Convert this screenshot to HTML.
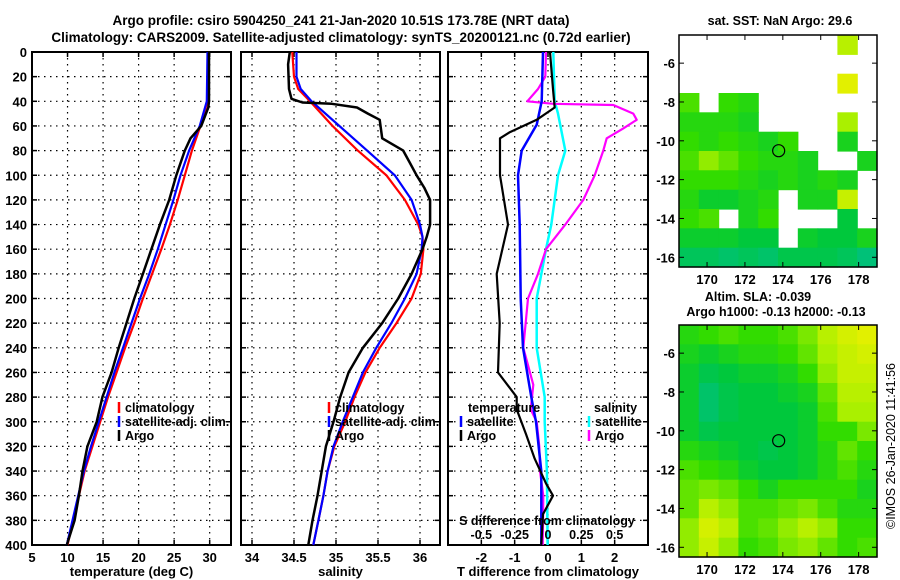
<!DOCTYPE html>
<html><head><meta charset="utf-8"><style>
html,body{margin:0;padding:0;background:#fff;}
svg{display:block;font-family:"Liberation Sans",sans-serif;font-weight:bold;}
</style></head><body>
<svg id="c" width="900" height="580" viewBox="0 0 900 580" xmlns="http://www.w3.org/2000/svg">
<rect width="900" height="580" fill="#fff"/>
<text x="341" y="25" font-size="13.5" text-anchor="middle">Argo profile: csiro 5904250_241 21-Jan-2020 10.51S 173.78E (NRT data)</text>
<text x="341" y="42" font-size="13.5" text-anchor="middle">Climatology: CARS2009. Satellite-adjusted climatology: synTS_20200121.nc (0.72d earlier)</text>
<g id="g"></g>
</svg>
<script>
// ---- data ----
const depthTicks=[0,20,40,60,80,100,120,140,160,180,200,220,240,260,280,300,320,340,360,380,400];
const tempTicks=[5,10,15,20,25,30];
const salTicks=[34,34.5,35,35.5,36];
const tdiffTicks=[-2,-1,0,1,2];
const sdiffTickLabels=["-0.5","-0.25","0","0.25","0.5"];
const sdiffTicks=[-0.5,-0.25,0,0.25,0.5];
const lonTicks=[170,172,174,176,178];
const latTicks=[-6,-8,-10,-12,-14,-16];

const tDepth=[0,40,60,80,100,120,140,160,180,200,220,240,260,280,300,320,340,360,380,400];
const tClim=[29.8,29.7,28.7,27.5,26.5,25.5,24.4,23.2,21.9,20.6,19.4,18.1,16.9,15.7,14.6,13.5,12.4,11.6,10.8,10.0];
const tSat=[29.7,29.6,28.6,27.1,25.9,24.9,23.8,22.7,21.5,20.2,19.0,17.8,16.6,15.5,14.4,13.3,12.3,11.5,10.7,9.9];
const aDepth=[0,40,45,60,70,80,100,120,140,160,180,200,220,240,260,280,300,320,340,360,380,400];
const tArgo=[29.9,29.9,29.8,28.8,27.3,26.5,25.3,24.3,23.0,21.8,20.6,19.4,18.3,17.2,16.2,14.9,14.1,12.8,12.1,11.6,11.0,9.9];

const sDepth=[0,20,30,40,60,80,100,120,140,150,160,180,200,220,240,260,280,300,320,340,360,380,400];
const sClim=[34.48,34.5,34.55,34.69,34.96,35.26,35.6,35.82,35.98,36.03,36.04,36.01,35.9,35.72,35.52,35.35,35.22,35.11,34.98,34.9,34.85,34.79,34.73];
const sSat=[34.53,34.53,34.58,34.71,35.04,35.37,35.7,35.9,36.0,36.03,36.02,35.96,35.82,35.66,35.48,35.32,35.2,35.08,34.97,34.9,34.85,34.79,34.73];
const saDepth=[0,10,30,38,41,42,45,50,55,70,80,90,100,110,120,140,150,160,180,200,220,240,260,280,300,320,340,360,380,400];
const sArgo=[34.45,34.43,34.44,34.47,34.6,34.95,35.25,35.38,35.52,35.55,35.8,35.88,35.96,36.05,36.12,36.12,36.08,36.03,35.9,35.74,35.55,35.32,35.15,35.05,34.97,34.88,34.83,34.78,34.72,34.67];

const dtSatDepth=[0,40,59,80,100,140,200,240,280,300,340,380,400];
const dtSat=[-0.15,-0.19,-0.34,-0.79,-0.9,-0.85,-0.82,-0.75,-0.5,-0.36,-0.2,-0.2,-0.2];
const dtArgoDepth=[0,30,45,55,65,70,100,140,180,220,260,280,290,310,330,350,360,375,400];
const dtArgo=[0.06,0.15,0.2,-0.34,-1.14,-1.44,-1.44,-1.2,-1.54,-1.45,-1.5,-0.94,-0.94,-0.66,-0.4,-0.06,0.15,-0.15,-0.2];
const dsSatDepth=[0,40,50,80,100,140,160,200,240,280,300,340,400];
const dsSat=[0.04,0.05,0.075,0.13,0.075,0.025,-0.015,-0.085,-0.085,-0.025,-0.025,-0.008,-0.003];
const dsArgoDepth=[0,20,30,40,42,43,50,55,62,70,80,100,120,140,160,180,200,240,270,290,300,320,340,360,400];
const dsArgo=[-0.015,-0.02,-0.075,-0.155,0.04,0.49,0.64,0.665,0.565,0.44,0.415,0.35,0.265,0.13,-0.015,-0.075,-0.15,-0.185,-0.11,-0.13,-0.085,-0.065,-0.06,-0.035,-0.04];

// SST grid rows lat -5..-16, cols lon 168.5..178.9 (null = no data)
const sstGrid=[
[null,null,null,null,null,null,null,null,0.8,null],
[null,null,null,null,null,null,null,null,null,null],
[null,null,null,null,null,null,null,null,0.95,null],
[0.55,null,0.5,0.45,null,null,null,null,null,null],
[0.45,0.45,0.45,0.4,null,null,null,null,0.75,null],
[0.5,0.45,0.5,0.45,0.4,0.5,null,null,0.4,null],
[0.55,0.7,0.6,0.5,0.45,0.45,0.4,null,null,0.4],
[0.5,0.5,0.5,0.45,0.4,0.45,0.4,0.45,0.4,null],
[0.45,0.35,0.35,0.4,0.45,null,0.4,0.4,0.85,null],
[0.5,0.55,null,0.4,0.5,null,null,null,0.3,null],
[0.35,0.35,0.35,0.3,0.3,null,0.35,0.3,0.3,0.4],
[0.2,0.2,0.15,0.2,0.15,0.25,0.25,0.25,0.2,0.1]];
const slaGrid=[
[0.45,0.5,0.55,0.5,0.5,0.55,0.65,0.8,0.9,0.95],
[0.4,0.35,0.4,0.45,0.45,0.5,0.6,0.75,0.85,0.9],
[0.35,0.25,0.3,0.35,0.35,0.4,0.5,0.7,0.85,0.85],
[0.35,0.15,0.25,0.3,0.3,0.35,0.4,0.6,0.8,0.8],
[0.35,0.15,0.25,0.3,0.3,0.3,0.35,0.55,0.75,0.75],
[0.35,0.25,0.3,0.3,0.3,0.3,0.35,0.5,0.5,0.65],
[0.45,0.4,0.35,0.3,0.25,0.3,0.35,0.45,0.6,0.5],
[0.55,0.5,0.45,0.35,0.3,0.3,0.35,0.45,0.55,0.45],
[0.6,0.65,0.6,0.5,0.4,0.5,0.5,0.5,0.5,0.4],
[0.6,0.8,0.7,0.55,0.55,0.6,0.65,0.55,0.45,0.45],
[0.7,0.9,0.8,0.55,0.6,0.7,0.8,0.7,0.5,0.5],
[0.7,0.85,0.7,0.5,0.55,0.65,0.7,0.6,0.5,0.55]];
const argoLon=173.78, argoLat=-10.51;

// ---- drawing ----
const NS="http://www.w3.org/2000/svg";
const G=document.getElementById('g');
function mk(tag,attrs,parent){const e=document.createElementNS(NS,tag);for(const k in attrs)e.setAttribute(k,attrs[k]);(parent||G).appendChild(e);return e;}
function txt(x,y,s,anchor,size,parent){const t=mk('text',{x:x,y:y,'font-size':size||13,'text-anchor':anchor||'middle'},parent);t.textContent=s;return t;}
const Y0=52,Y1=545;
const yD=d=>Y0+d*(Y1-Y0)/400;
function lin(d0,d1,r0,r1){return v=>r0+(v-d0)*(r1-r0)/(d1-d0);}
const xT=lin(5,33,32,231);
const xS=lin(34,36,252,420);
const xDT=lin(-3,3,448,648);
const xDS=v=>xDT(v*4);

function panel(x0,x1,name,xs,ticks,labels,title){
  const g=mk('g',{});
  
  
  depthTicks.forEach(d=>{if(d>0&&d<400)mk('line',{x1:x0,x2:x1,y1:yD(d),y2:yD(d),stroke:'#000','stroke-width':1.2,'stroke-dasharray':'1.5 4.5'},g);
    mk('line',{x1:x0,x2:x0+5,y1:yD(d),y2:yD(d),stroke:'#000','stroke-width':1.5},g);
    mk('line',{x1:x1-5,x2:x1,y1:yD(d),y2:yD(d),stroke:'#000','stroke-width':1.5},g);});
  ticks.forEach((t,i)=>{const x=xs(t);
    mk('line',{x1:x,x2:x,y1:Y0,y2:Y1,stroke:'#000','stroke-width':1.2,'stroke-dasharray':'1.5 4.5'},g);
    mk('line',{x1:x,x2:x,y1:Y1-5,y2:Y1,stroke:'#000','stroke-width':1.5},g);
    mk('line',{x1:x,x2:x,y1:Y0,y2:Y0+5,stroke:'#000','stroke-width':1.5},g);
    const l=txt(x,562,labels?labels[i]:String(t),'middle',13,g);
    
    });
  mk('rect',{x:x0,y:Y0,width:x1-x0,height:Y1-Y0,fill:'none',stroke:'#000','stroke-width':2},g);
  const tt=txt((x0+x1)/2,576,title,'middle',13,g);
  
  
  return g;
}
function series(xs,vals,depths,color,name,w){
  const pts=vals.map((v,i)=>xs(v).toFixed(1)+','+yD(depths[i]).toFixed(1)).join(' ');
  const p=mk('polyline',{points:pts,fill:'none',stroke:color,'stroke-width':w||2.2,'stroke-linejoin':'round'});
  
  
}
function legendEntry(x,y,color,label,name){
  const g=mk('g',{});
  
  
  mk('line',{x1:x,x2:x,y1:y-10,y2:y+1,stroke:color,'stroke-width':2.5},g);
  txt(x+6,y,label,'start',12.5,g);
}

panel(32,231,'temperature-panel',xT,tempTicks,null,'temperature (deg C)');
depthTicks.forEach(d=>{const l=txt(27,yD(d)+5,String(d),'end',13);
  
  });
series(xT,tClim,tDepth,'#f00','temp-climatology-line');
series(xT,tSat,tDepth,'#00f','temp-satellite-line');
series(xT,tArgo,aDepth,'#000','temp-argo-line',2.5);
legendEntry(119,412,'#f00','climatology','legend-climatology');
legendEntry(119,426,'#00f','satellite-adj. clim.','legend-satellite');
legendEntry(119,440,'#000','Argo','legend-argo');

panel(241,440,'salinity-panel',xS,salTicks,null,'salinity');
series(xS,sClim,sDepth,'#f00','sal-climatology-line');
series(xS,sSat,sDepth,'#00f','sal-satellite-line');
series(xS,sArgo,saDepth,'#000','sal-argo-line',2.5);
legendEntry(329,412,'#f00','climatology','legend-climatology');
legendEntry(329,426,'#00f','satellite-adj. clim.','legend-satellite');
legendEntry(329,440,'#000','Argo','legend-argo');

panel(448,648,'difference-panel',xDT,tdiffTicks,null,'T difference from climatology');
series(xDS,dsSat,dsSatDepth,'#0ff','sdiff-satellite-line',2.5);
series(xDS,dsArgo,dsArgoDepth,'#f0f','sdiff-argo-line',2.2);
series(xDT,dtSat,dtSatDepth,'#00f','tdiff-satellite-line',2.5);
series(xDT,dtArgo,dtArgoDepth,'#000','tdiff-argo-line',2.2);
{const t=txt(468,412,'temperature','start',12.5);}
legendEntry(461,426,'#00f','satellite','legend-t-satellite');
legendEntry(461,440,'#000','Argo','legend-t-argo');
{const t=txt(594,412,'salinity','start',12.5);}
legendEntry(589,426,'#0ff','satellite','legend-s-satellite');
legendEntry(589,440,'#f0f','Argo','legend-s-argo');
{const t=txt(547,525,'S difference from climatology','middle',12.5);}
sdiffTicks.forEach((v,i)=>{const l=txt(xDS(v),539,sdiffTickLabels[i],'middle',12.5);
  
  });

// maps
const stops=[[0,[0,190,150]],[0.3,[0,200,60]],[0.5,[50,220,0]],[0.75,[170,240,0]],[1,[240,240,0]]];
function cmap(v){for(let i=1;i<stops.length;i++){if(v<=stops[i][0]){const a=stops[i-1],b=stops[i],f=(v-a[0])/(b[0]-a[0]);
  return 'rgb('+a[1].map((c,k)=>Math.round(c+(b[1][k]-c)*f)).join(',')+')';}}return 'rgb(240,240,0)';}
function map(top,bot,grid,name){
  const L=679,R=877;
  const xL=lin(168.52,178.97,L,R), yL=lin(-4.55,-16.5,top,bot);
  const g=mk('g',{});
  
  
  const nr=grid.length,nc=grid[0].length,cw=(R-L)/nc,ch=(bot-top)/nr;
  grid.forEach((row,r)=>row.forEach((v,c)=>{if(v===null)return;
    const cell=mk('rect',{x:(L+c*cw).toFixed(1),y:(top+r*ch).toFixed(1),width:(cw+0.6).toFixed(1),height:(ch+0.6).toFixed(1),fill:cmap(v)},g);
    
    }));
  mk('circle',{cx:xL(argoLon),cy:yL(argoLat),r:6,fill:'none',stroke:'#000','stroke-width':1.2},g);
  mk('rect',{x:L,y:top,width:R-L,height:bot-top,fill:'none',stroke:'#000','stroke-width':1.5},g);
  lonTicks.forEach(t=>{const x=xL(t);
    mk('line',{x1:x,x2:x,y1:top,y2:top+5,stroke:'#000'},g);mk('line',{x1:x,x2:x,y1:bot-5,y2:bot,stroke:'#000'},g);
    const l=txt(x,bot+17,String(t),'middle',13,g);});
  latTicks.forEach(t=>{const y=yL(t);
    mk('line',{x1:L,x2:L+5,y1:y,y2:y,stroke:'#000'},g);mk('line',{x1:R-5,x2:R,y1:y,y2:y,stroke:'#000'},g);
    const l=txt(675,y+5,String(t),'end',13,g);});
}
map(35,267,sstGrid,'sst-map');
map(325,557,slaGrid,'sla-map');
{const t=txt(780,25,'sat. SST: NaN Argo: 29.6','middle',12.5);}
{const t=txt(758,301,'Altim. SLA: -0.039','middle',12.5);}
{const t=txt(776,316,'Argo h1000: -0.13 h2000: -0.13','middle',12.5);}
{const t=txt(0,0,'©IMOS 26-Jan-2020 11:41:56','middle',12.5);t.setAttribute('transform','translate(895,446) rotate(-90)');t.setAttribute('font-weight','normal');}
</script>
</body></html>
